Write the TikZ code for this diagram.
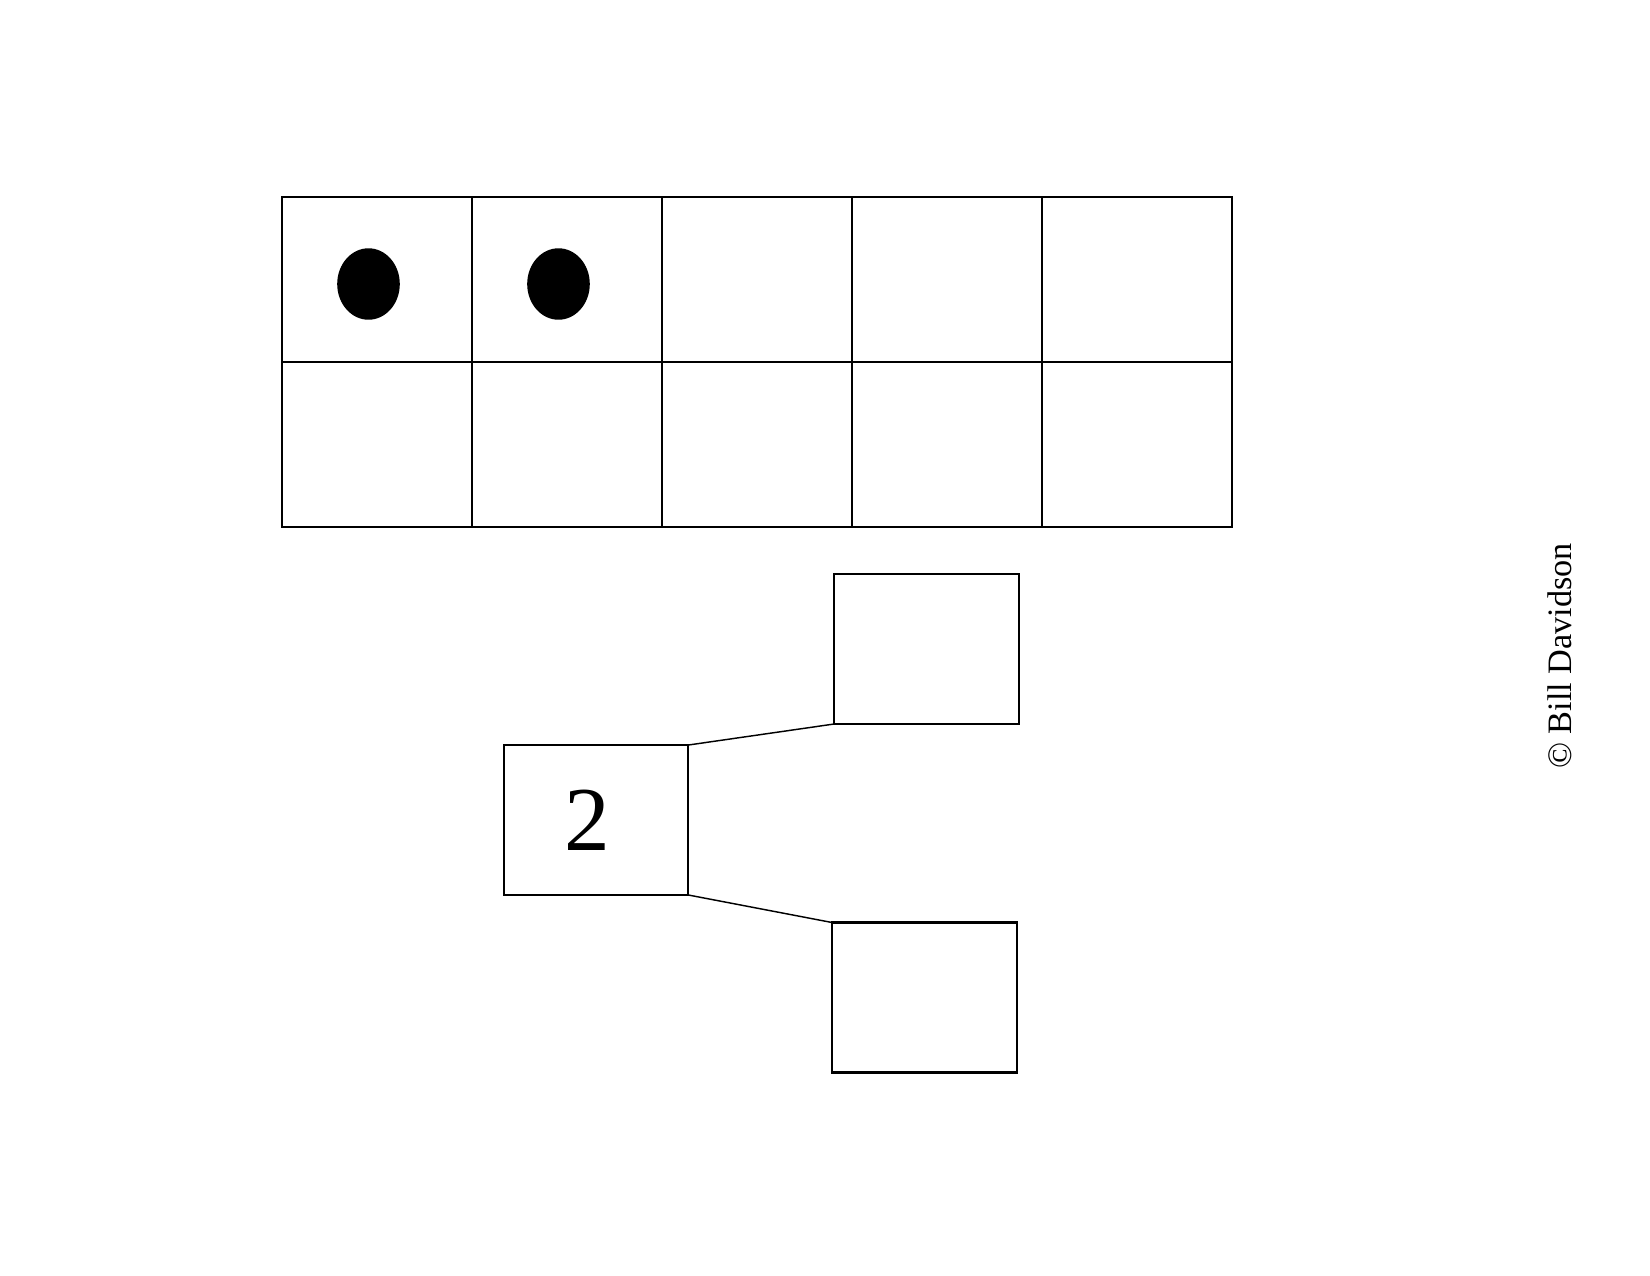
\documentclass[tikz,border=0pt]{standalone}
\usepackage{fontspec}
\setmainfont{Liberation Serif}
\usetikzlibrary{positioning, shapes.geometric}

\tikzset{
  cell/.style={draw, rectangle, line width=1pt, outer sep=0pt,
               minimum width=32.17mm, minimum height=27.94mm},
  counter/.style={ellipse, fill=black, inner sep=0pt,
                  minimum width=10.6mm, minimum height=12.1mm},
  bond/.style={draw, rectangle, line width=1pt, outer sep=0pt, inner sep=0pt,
               minimum width=31.3mm, minimum height=25.4mm},
  link/.style={line width=0.7pt}
}

\begin{document}
\begin{tikzpicture}[x=0.169333mm, y=-0.169333mm]
    \useasboundingbox (0,0) rectangle (1650,1275);

    % ten frame
    \node[cell] (c11) at (377,279.5) {};
    \node[cell, right=0pt of c11] (c12) {};
    \node[cell, right=0pt of c12] (c13) {};
    \node[cell, right=0pt of c13] (c14) {};
    \node[cell, right=0pt of c14] (c15) {};
    \node[cell, below=0pt of c11] (c21) {};
    \node[cell, right=0pt of c21] (c22) {};
    \node[cell, right=0pt of c22] (c23) {};
    \node[cell, right=0pt of c23] (c24) {};
    \node[cell, right=0pt of c24] (c25) {};

    \node[counter] (dot1) at ([shift={(-8.5,4.5)}]c11.center) {};
    \node[counter] (dot2) at ([shift={(-8.5,4.5)}]c12.center) {};

    % number bond
    \node[bond, font=\fontsize{44}{44}\selectfont] (whole) at (596,820)
    {2\kern2.9mm};
    \node[bond] (part1) at (926.5,649) {};
    \node[bond] (part2) at (924.5,997.5) {};

    \draw[link] (whole.north east) -- (part1.south west);
    \draw[link] (whole.south east) -- (part2.north west);

    \node[rotate=90, font=\fontsize{16.5}{18}\selectfont] (credit) at (1560,656)
    {© Bill Davidson};
\end{tikzpicture}
\end{document}
